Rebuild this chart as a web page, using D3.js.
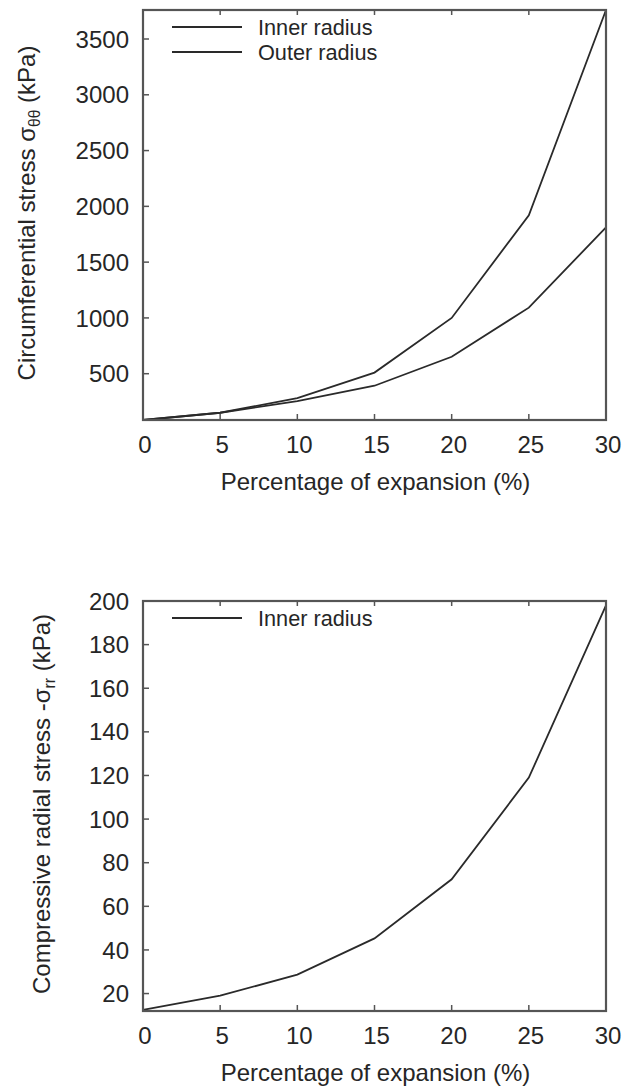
<!doctype html>
<html>
<head>
	<meta charset="UTF-8">
	<title>Stress vs expansion</title>
	<script src="https://d3js.org/d3.v7.min.js"></script>
	<style>
		body { margin: 0; background: #fff; }
		text { font-family: "Liberation Sans", Arial, sans-serif; fill: #262626; }
	</style>
</head>
<body>
	<script>
		// data
		var expansion = [0, 5, 10, 15, 20, 25, 30];
		var innerCirc = [85, 150, 282, 510, 1000, 1920, 3760];
		var outerCirc = [85, 150, 255, 392, 652, 1092, 1812];
		var innerRadial = [12.5, 19, 28.7, 45.3, 72.4, 119, 198];

		var xTicks = [0, 5, 10, 15, 20, 25, 30];
		var circTicks = [500, 1000, 1500, 2000, 2500, 3000, 3500];
		var radialTicks = [20, 40, 60, 80, 100, 120, 140, 160, 180, 200];

		var fontSize = 24;
		var legendSize = 21.7;
		var left = 143, right = 606;

		var svg = d3.select("body")
			.append("svg")
			.attr("width", 626)
			.attr("height", 1091);

		svg.append("rect")
			.attr("width", 626)
			.attr("height", 1091)
			.attr("fill", "white");

		var x = d3.scaleLinear().domain([0, 30]).range([left, right]);

		function drawPanel(top, bottom, yDomain, yTicks, series, legendNames, titleParts, titleX) {
			var y = d3.scaleLinear().domain(yDomain).range([bottom, top]);
			var g = svg.append("g");

			// y ticks (inside) and labels
			g.selectAll(".ytick")
				.data(yTicks)
				.enter()
				.append("line")
				.attr("x1", left)
				.attr("x2", left + 6)
				.attr("y1", function(d) { return y(d); })
				.attr("y2", function(d) { return y(d); })
				.attr("stroke", "#555")
				.attr("stroke-width", 1.5);

			g.selectAll(".ylab")
				.data(yTicks)
				.enter()
				.append("text")
				.attr("x", left - 14)
				.attr("y", function(d) { return y(d); })
				.attr("dy", "0.36em")
				.attr("text-anchor", "end")
				.attr("font-size", fontSize)
				.text(function(d) { return d; });

			// x ticks bottom and top (mirror)
			g.selectAll(".xtick")
				.data(xTicks)
				.enter()
				.append("line")
				.attr("x1", function(d) { return x(d); })
				.attr("x2", function(d) { return x(d); })
				.attr("y1", bottom)
				.attr("y2", bottom - 6)
				.attr("stroke", "#555")
				.attr("stroke-width", 1.5);

			g.selectAll(".xtickTop")
				.data(xTicks)
				.enter()
				.append("line")
				.attr("x1", function(d) { return x(d); })
				.attr("x2", function(d) { return x(d); })
				.attr("y1", top)
				.attr("y2", top + 5)
				.attr("stroke", "#555")
				.attr("stroke-width", 1.5);

			g.selectAll(".xlab")
				.data(xTicks)
				.enter()
				.append("text")
				.attr("x", function(d) { return x(d) + 2; })
				.attr("y", bottom + 33)
				.attr("text-anchor", "middle")
				.attr("font-size", fontSize)
				.text(function(d) { return d; });

			// x axis title
			g.append("text")
				.attr("x", (left + right) / 2 + 1)
				.attr("y", bottom + 70)
				.attr("text-anchor", "middle")
				.attr("font-size", fontSize)
				.text("Percentage of expansion (%)");

			// y axis title with subscript
			var yt = g.append("text")
				.attr("transform", "translate(" + titleX + "," + ((top + bottom) / 2 - 2) + ") rotate(-90)")
				.attr("text-anchor", "middle")
				.attr("dy", "0.35em")
				.attr("font-size", fontSize);
			yt.append("tspan").text(titleParts[0]);
			yt.append("tspan")
				.attr("font-size", fontSize * 0.65)
				.attr("dy", 5)
				.text(titleParts[1]);
			yt.append("tspan")
				.attr("dy", -5)
				.text(titleParts[2]);

			// curves
			var line = d3.line()
				.x(function(d) { return x(d[0]); })
				.y(function(d) { return y(d[1]); });

			series.forEach(function(s) {
				g.append("path")
					.datum(d3.zip(expansion, s))
					.attr("d", line)
					.attr("fill", "none")
					.attr("stroke", "#2a2a2a")
					.attr("stroke-width", 1.8);
			});

			// legend
			legendNames.forEach(function(name, i) {
				var ly = top + 17 + i * 25;
				g.append("line")
					.attr("x1", 172)
					.attr("x2", 242)
					.attr("y1", ly)
					.attr("y2", ly)
					.attr("stroke", "#2a2a2a")
					.attr("stroke-width", 1.8);
				g.append("text")
					.attr("x", 258)
					.attr("y", ly)
					.attr("dy", "0.36em")
					.attr("font-size", legendSize)
					.text(name);
			});

			// frame
			g.append("rect")
				.attr("x", left)
				.attr("y", top)
				.attr("width", right - left)
				.attr("height", bottom - top)
				.attr("fill", "none")
				.attr("stroke", "#555")
				.attr("stroke-width", 2.2);
		}

		drawPanel(10, 420, d3.extent(innerCirc.concat(outerCirc)), circTicks,
			[innerCirc, outerCirc], ["Inner radius", "Outer radius"],
			["Circumferential stress \u03c3", "\u03b8\u03b8", " (kPa)"], 27);

		drawPanel(601, 1011, [12, 200], radialTicks,
			[innerRadial], ["Inner radius"],
			["Compressive radial stress -\u03c3", "rr", " (kPa)"], 42);
	</script>
</body>
</html>
